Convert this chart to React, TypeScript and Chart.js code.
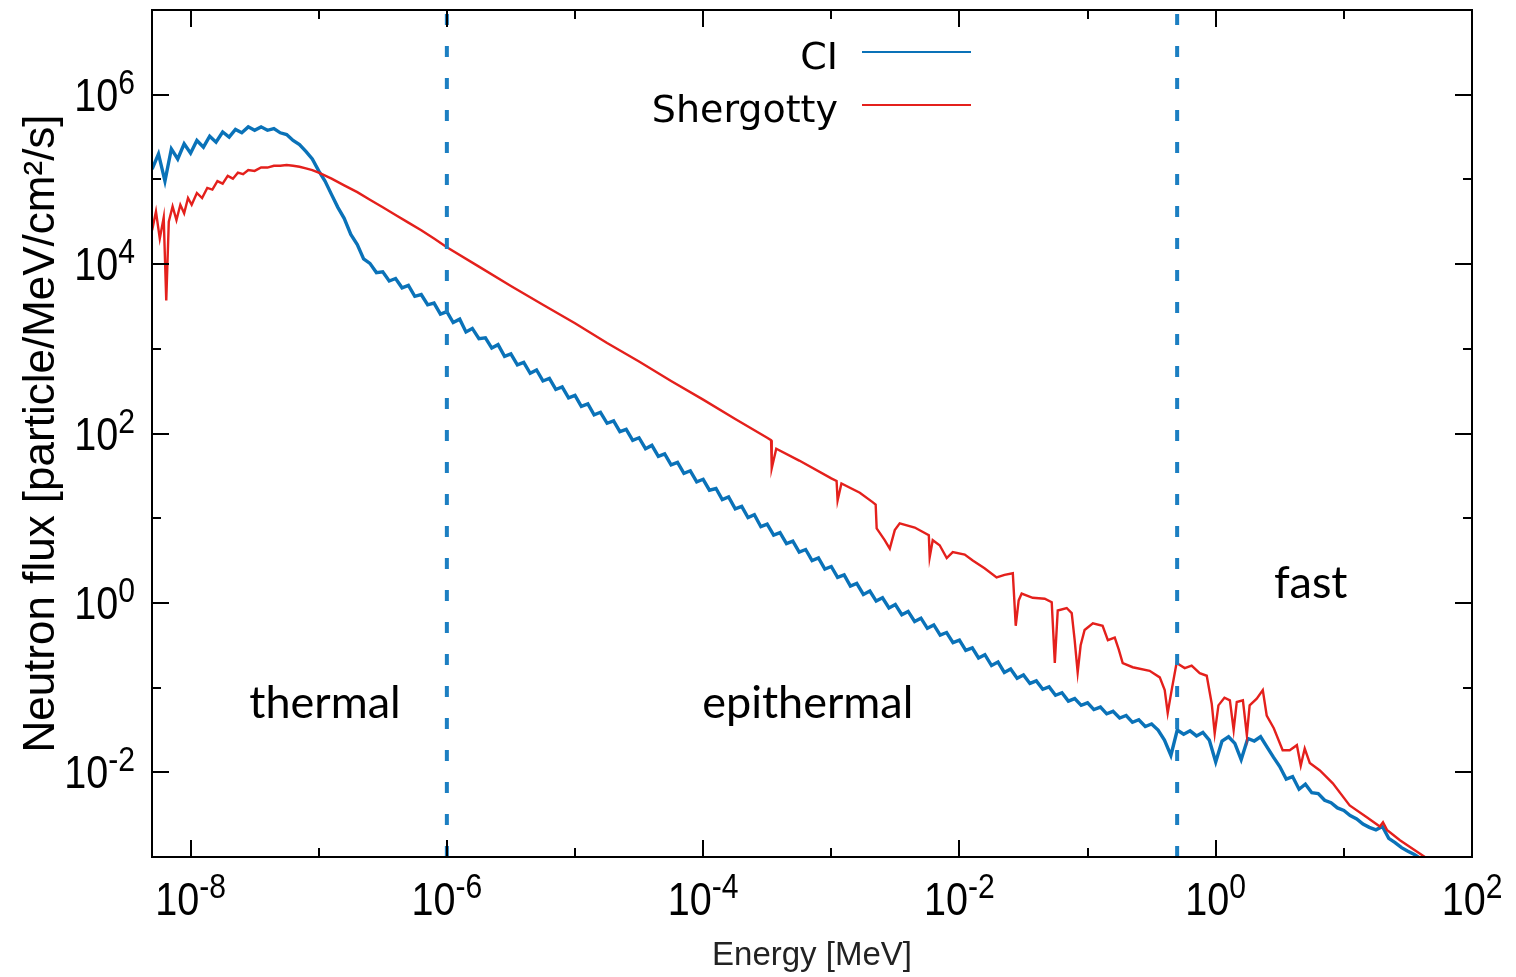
import React, { useEffect, useRef } from 'react';
import { Chart, registerables } from 'chart.js';

Chart.register(...registerables);

// ---------------- data ----------------
const seriesNames = ['CI', 'Shergotty'];

// CI (blue) spectrum
const ciEnergy = [
  5.01e-9, 5.62e-9, 6.31e-9, 7.08e-9, 7.94e-9, 8.91e-9, 1.00e-8, 1.12e-8, 1.26e-8, 1.41e-8,
  1.58e-8, 1.78e-8, 2.00e-8, 2.24e-8, 2.51e-8, 2.82e-8, 3.16e-8, 3.55e-8, 3.98e-8, 4.47e-8,
  5.01e-8, 5.62e-8, 6.31e-8, 7.08e-8, 7.94e-8, 8.91e-8, 1.00e-7, 1.12e-7, 1.26e-7, 1.41e-7,
  1.58e-7, 1.78e-7, 2.00e-7, 2.24e-7, 2.51e-7, 2.82e-7, 3.16e-7, 3.55e-7, 3.98e-7, 4.47e-7,
  5.01e-7, 5.62e-7, 6.31e-7, 7.08e-7, 7.94e-7, 8.91e-7, 1.00e-6, 1.12e-6, 1.26e-6, 1.41e-6,
  1.58e-6, 1.78e-6, 2.00e-6, 2.24e-6, 2.51e-6, 2.82e-6, 3.16e-6, 3.55e-6, 3.98e-6, 4.47e-6,
  5.01e-6, 5.62e-6, 6.31e-6, 7.08e-6, 7.94e-6, 8.91e-6, 1.00e-5, 1.12e-5, 1.26e-5, 1.41e-5,
  1.58e-5, 1.78e-5, 2.00e-5, 2.24e-5, 2.51e-5, 2.82e-5, 3.16e-5, 3.55e-5, 3.98e-5, 4.47e-5,
  5.01e-5, 5.62e-5, 6.31e-5, 7.08e-5, 7.94e-5, 8.91e-5, 1.00e-4, 1.12e-4, 1.26e-4, 1.41e-4,
  1.58e-4, 1.78e-4, 2.00e-4, 2.24e-4, 2.51e-4, 2.82e-4, 3.16e-4, 3.55e-4, 3.98e-4, 4.47e-4,
  5.01e-4, 5.62e-4, 6.31e-4, 7.08e-4, 7.94e-4, 8.91e-4, 1.00e-3, 1.12e-3, 1.26e-3, 1.41e-3,
  1.58e-3, 1.78e-3, 2.00e-3, 2.24e-3, 2.51e-3, 2.82e-3, 3.16e-3, 3.55e-3, 3.98e-3, 4.47e-3,
  5.01e-3, 5.62e-3, 6.31e-3, 7.08e-3, 7.94e-3, 8.91e-3, 1.00e-2, 1.12e-2, 1.26e-2, 1.41e-2,
  1.58e-2, 1.78e-2, 2.00e-2, 2.24e-2, 2.51e-2, 2.82e-2, 3.16e-2, 3.55e-2, 3.98e-2, 4.47e-2,
  5.01e-2, 5.62e-2, 6.31e-2, 7.08e-2, 7.94e-2, 8.91e-2, 0.100, 0.112, 0.126, 0.141,
  0.158, 0.178, 0.200, 0.224, 0.251, 0.282, 0.316, 0.355, 0.398, 0.447,
  0.501, 0.562, 0.631, 0.708, 0.794, 0.891, 1.00, 1.12, 1.26, 1.41,
  1.58, 1.78, 2.00, 2.24, 2.51, 2.82, 3.16, 3.55, 3.98, 4.47,
  5.01, 5.62, 6.31, 7.08, 7.94, 8.91, 10.0, 11.2, 12.6, 14.1,
  15.8, 17.8, 20.0, 22.4, 25.1, 28.2, 31.6, 35.5, 39.8,
];
const ciFlux = [
  1.32e5, 2.00e5, 9.55e4, 2.29e5, 1.74e5, 2.63e5, 2.04e5, 2.88e5, 2.40e5, 3.24e5,
  2.75e5, 3.63e5, 3.16e5, 3.89e5, 3.55e5, 4.17e5, 3.80e5, 4.17e5, 3.80e5, 3.98e5,
  3.55e5, 3.39e5, 2.88e5, 2.57e5, 2.14e5, 1.74e5, 1.26e5, 9.55e4, 6.61e4, 4.68e4,
  3.47e4, 2.24e4, 1.70e4, 1.15e4, 1.02e4, 7.94e3, 8.13e3, 6.31e3, 6.76e3, 5.25e3,
  5.62e3, 4.17e3, 4.37e3, 3.31e3, 3.47e3, 2.57e3, 2.75e3, 2.04e3, 2.24e3, 1.58e3,
  1.74e3, 1.32e3, 1.35e3, 1.02e3, 1.12e3, 813, 871, 646, 692, 513,
  562, 417, 447, 331, 355, 263, 282, 209, 224, 166,
  178, 132, 141, 105, 112, 83.2, 89.1, 66.1, 72.4, 53.7,
  57.5, 42.7, 45.7, 33.9, 36.3, 26.9, 28.8, 21.4, 22.4, 16.6,
  17.8, 12.9, 13.8, 10.2, 11.0, 7.94, 8.51, 6.31, 6.76, 5.01,
  5.37, 3.98, 4.27, 3.16, 3.39, 2.51, 2.69, 2.00, 2.14, 1.58,
  1.70, 1.26, 1.38, 1.05, 1.15, 0.871, 0.955, 0.724, 0.794, 0.603,
  0.661, 0.501, 0.550, 0.417, 0.447, 0.339, 0.363, 0.275, 0.295, 0.224,
  0.245, 0.182, 0.200, 0.151, 0.166, 0.129, 0.141, 0.112, 0.120, 0.0955,
  0.102, 0.0813, 0.0871, 0.0692, 0.0741, 0.0617, 0.0661, 0.0550, 0.0589, 0.0490,
  0.0525, 0.0437, 0.0468, 0.0389, 0.0417, 0.0347, 0.0372, 0.0316, 0.0240, 0.0158,
  0.0316, 0.0282, 0.0309, 0.0269, 0.0295, 0.0240, 0.0132, 0.0234, 0.0263, 0.0219,
  0.0141, 0.0251, 0.0234, 0.0263, 0.0200, 0.0151, 0.0117, 0.00832, 0.00891, 0.00631,
  0.00724, 0.00575, 0.00562, 0.00468, 0.00437, 0.00380, 0.00355, 0.00309, 0.00282, 0.00245,
  0.00224, 0.00209, 0.00229, 0.00166, 0.00148, 0.00129, 0.00117, 0.00107, 0.000955,
];

// Shergotty (red) spectrum
const shEnergy = [
  5.01e-9, 5.37e-9, 5.75e-9, 6.17e-9, 6.46e-9, 6.76e-9, 7.24e-9, 7.76e-9, 8.32e-9, 8.91e-9,
  9.55e-9, 1.02e-8, 1.12e-8, 1.23e-8, 1.35e-8, 1.48e-8, 1.62e-8, 1.78e-8, 1.95e-8, 2.14e-8,
  2.34e-8, 2.57e-8, 2.82e-8, 3.16e-8, 3.55e-8, 3.98e-8, 4.47e-8, 5.01e-8, 5.62e-8, 6.31e-8,
  7.08e-8, 7.94e-8, 8.91e-8, 1.00e-7, 1.26e-7, 1.58e-7, 2.00e-7, 2.51e-7, 3.16e-7, 3.98e-7,
  5.01e-7, 6.31e-7, 7.94e-7, 1.00e-6, 1.78e-6, 3.16e-6, 5.62e-6, 1.00e-5, 1.78e-5, 3.16e-5,
  5.62e-5, 1.00e-4, 1.78e-4, 3.16e-4, 3.39e-4, 3.43e-4, 3.72e-4, 5.62e-4, 1.00e-3, 1.10e-3,
  1.12e-3, 1.20e-3, 1.67e-3, 2.10e-3, 2.22e-3, 2.26e-3, 2.61e-3, 2.86e-3, 3.13e-3, 3.42e-3,
  4.48e-3, 5.77e-3, 5.86e-3, 6.19e-3, 7.01e-3, 7.96e-3, 8.87e-3, 1.10e-2, 1.27e-2, 1.57e-2,
  1.95e-2, 2.25e-2, 2.61e-2, 2.75e-2, 2.90e-2, 3.06e-2, 3.73e-2, 4.63e-2, 5.25e-2, 5.55e-2,
  5.85e-2, 6.87e-2, 7.52e-2, 7.93e-2, 8.37e-2, 8.83e-2, 9.48e-2, 0.110, 0.131, 0.144,
  0.163, 0.175, 0.188, 0.225, 0.305, 0.366, 0.400, 0.422, 0.453, 0.495,
  0.573, 0.649, 0.750, 0.851, 0.931, 0.982, 1.05, 1.17, 1.29, 1.38,
  1.46, 1.63, 1.75, 1.84, 2.09, 2.33, 2.50, 2.84, 3.33, 3.78,
  4.30, 4.61, 4.95, 5.42, 6.50, 8.20, 11.1, 15.1, 19.1, 20.2,
  21.7, 27.4, 42.9,
];
const shFlux = [
  2.51e4, 4.17e4, 2.00e4, 3.55e4, 3.72e3, 3.16e4, 4.79e4, 3.31e4, 5.01e4, 3.98e4,
  6.03e4, 5.01e4, 6.92e4, 6.03e4, 7.94e4, 7.59e4, 9.55e4, 8.91e4, 1.10e5, 1.02e5,
  1.20e5, 1.15e5, 1.29e5, 1.26e5, 1.38e5, 1.38e5, 1.45e5, 1.45e5, 1.48e5, 1.45e5,
  1.41e5, 1.35e5, 1.29e5, 1.20e5, 1.02e5, 8.51e4, 7.08e4, 5.75e4, 4.68e4, 3.80e4,
  3.09e4, 2.51e4, 2.00e4, 1.58e4, 9.33e3, 5.50e3, 3.31e3, 2.00e3, 1.17e3, 708,
  417, 251, 148, 89.1, 83.2, 38.9, 66.1, 47.9, 29.5, 27.5,
  16.2, 25.7, 20.0, 15.5, 14.5, 7.59, 5.50, 4.37, 7.24, 8.71,
  7.76, 6.31, 3.47, 5.50, 4.79, 3.39, 3.98, 3.72, 3.16, 2.57,
  2.00, 2.14, 2.24, 0.537, 1.07, 1.29, 1.15, 1.12, 1.02, 0.195,
  0.813, 0.871, 0.759, 0.363, 0.151, 0.316, 0.479, 0.575, 0.537, 0.363,
  0.389, 0.282, 0.195, 0.174, 0.158, 0.132, 0.0933, 0.0501, 0.0933, 0.195,
  0.170, 0.182, 0.148, 0.138, 0.0646, 0.0288, 0.0617, 0.0759, 0.0708, 0.0316,
  0.0676, 0.0708, 0.0275, 0.0617, 0.0741, 0.0933, 0.0468, 0.0331, 0.0182, 0.0182,
  0.0209, 0.0120, 0.0191, 0.0129, 0.0105, 0.00741, 0.00407, 0.00295, 0.00229, 0.00257,
  0.00209, 0.00158, 0.00100,
];

// region boundaries (MeV) drawn as dashed verticals
const regionBoundaries = [1e-6, 0.5];

// region names and where they sit (energy, flux at text baseline)
const regionNames = ['thermal', 'epithermal', 'fast'];
const regionNameEnergy = [1.12e-7, 6.55e-4, 5.51];
const regionNameFlux = [0.0434, 0.0434, 1.13];

// axes
const xRange = [5e-9, 100];
const yRange = [1e-3, 1e7];
const xTickExponents = [-8, -7, -6, -5, -4, -3, -2, -1, 0, 1, 2];
const yTickExponents = [-3, -2, -1, 0, 1, 2, 3, 4, 5, 6, 7];
const xLabelExponents = [-8, -6, -4, -2, 0, 2];
const yLabelExponents = [-2, 0, 2, 4, 6];
const xTitle = 'Energy [MeV]';
const yTitle = 'Neutron flux [particle/MeV/cm²/s]';

// ---------------- styles ----------------
const BLUE = '#0a72b8';
const RED = '#e4201c';
const DASH_BLUE = '#1c7fc2';
const TICK_FONT = '"Liberation Sans", Arial, sans-serif';
const SX = 0.86;

function drawPower(
  ctx: CanvasRenderingContext2D,
  exp: number,
  anchorX: number,
  baseY: number,
  supY: number,
  align: 'center' | 'right'
) {
  const base = '10';
  const sup = String(exp);
  ctx.font = `46px ${TICK_FONT}`;
  const wb = ctx.measureText(base).width * SX;
  ctx.font = `35px ${TICK_FONT}`;
  const ws = ctx.measureText(sup).width * SX;
  const total = wb + ws;
  const x0 = align === 'center' ? anchorX - total / 2 : anchorX - total;
  ctx.save();
  ctx.translate(x0, baseY);
  ctx.scale(SX, 1);
  ctx.font = `46px ${TICK_FONT}`;
  ctx.fillText(base, 0, 0);
  ctx.restore();
  ctx.save();
  ctx.translate(x0 + wb, supY);
  ctx.scale(SX, 1);
  ctx.font = `35px ${TICK_FONT}`;
  ctx.fillText(sup, 0, 0);
  ctx.restore();
}

const gnuplotLook = {
  id: 'gnuplotLook',
  afterDraw(chart: any) {
    const { ctx, chartArea: ca, scales } = chart;
    const xs = scales.x;
    const ys = scales.y;
    ctx.save();
    ctx.strokeStyle = '#000';
    ctx.fillStyle = '#000';
    ctx.lineWidth = 2;
    ctx.strokeRect(ca.left, ca.top, ca.right - ca.left, ca.bottom - ca.top);

    ctx.beginPath();
    xs.ticks.forEach((t: any) => {
      const e = Math.round(Math.log10(t.value));
      const len = e % 2 === 0 ? 17 : 9;
      const px = Math.round(xs.getPixelForValue(t.value));
      ctx.moveTo(px, ca.bottom);
      ctx.lineTo(px, ca.bottom - len);
      ctx.moveTo(px, ca.top);
      ctx.lineTo(px, ca.top + len);
    });
    ys.ticks.forEach((t: any) => {
      const e = Math.round(Math.log10(t.value));
      const len = e % 2 === 0 ? 17 : 9;
      const py = Math.round(ys.getPixelForValue(t.value));
      ctx.moveTo(ca.left, py);
      ctx.lineTo(ca.left + len, py);
      ctx.moveTo(ca.right, py);
      ctx.lineTo(ca.right - len, py);
    });
    ctx.stroke();

    ctx.textAlign = 'left';
    ctx.textBaseline = 'alphabetic';
    xLabelExponents.forEach((e) => {
      const px = xs.getPixelForValue(10 ** e);
      drawPower(ctx, e, px, ca.bottom + 58, ca.bottom + 41, 'center');
    });
    yLabelExponents.forEach((e) => {
      const py = ys.getPixelForValue(10 ** e);
      drawPower(ctx, e, ca.left - 17, py + 16, py - 1, 'right');
    });

    // legend (text left of sample line, gnuplot style)
    ctx.font = '38px "DejaVu Sans", sans-serif';
    ctx.textAlign = 'right';
    const legendColors = [BLUE, RED];
    const legendY = [52, 105];
    seriesNames.forEach((name, i) => {
      ctx.fillStyle = '#000';
      ctx.fillText(name, 838, legendY[i] + 17);
      ctx.strokeStyle = legendColors[i];
      ctx.lineWidth = 2;
      ctx.beginPath();
      ctx.moveTo(862, legendY[i]);
      ctx.lineTo(971, legendY[i]);
      ctx.stroke();
    });

    // region names
    ctx.font = '45px Lato, "Open Sans", sans-serif';
    ctx.textAlign = 'center';
    ctx.fillStyle = '#000';
    regionNames.forEach((name, i) => {
      ctx.fillText(name, xs.getPixelForValue(regionNameEnergy[i]), ys.getPixelForValue(regionNameFlux[i]));
    });
    ctx.restore();
  },
};

export default function App() {
  const ref = useRef<HTMLCanvasElement>(null);
  useEffect(() => {
    const canvas = ref.current;
    if (!canvas) return;
    const boundarySets = regionBoundaries.map((e) => ({
      label: 'boundary',
      data: [
        { x: e, y: yRange[0] },
        { x: e, y: yRange[1] },
      ],
      borderColor: DASH_BLUE,
      borderWidth: 4,
      borderDash: [11, 21],
      pointRadius: 0,
    }));
    const chart = new Chart(canvas, {
      type: 'line',
      data: {
        datasets: [
          ...boundarySets,
          {
            label: seriesNames[1],
            data: shEnergy.map((x, i) => ({ x, y: shFlux[i] })),
            borderColor: RED,
            borderWidth: 2.4,
            pointRadius: 0,
            tension: 0,
          },
          {
            label: seriesNames[0],
            data: ciEnergy.map((x, i) => ({ x, y: ciFlux[i] })),
            borderColor: BLUE,
            borderWidth: 3.4,
            pointRadius: 0,
            tension: 0,
          },
        ],
      },
      options: {
        animation: false,
        responsive: false,
        devicePixelRatio: 1,
        layout: { padding: { top: 10, right: 44, left: 0, bottom: 0 } },
        plugins: { legend: { display: false }, tooltip: { enabled: false } },
        scales: {
          x: {
            type: 'logarithmic',
            position: 'bottom',
            min: xRange[0],
            max: xRange[1],
            afterBuildTicks: (s: any) => {
              s.ticks = xTickExponents.map((e) => ({ value: 10 ** e }));
            },
            afterFit: (s: any) => {
              s.height = 120;
            },
            ticks: { display: false },
            grid: { display: false },
            border: { display: false },
            title: {
              display: true,
              text: xTitle,
              color: '#222',
              font: { family: '"Liberation Sans", Arial, sans-serif', size: 33 },
              padding: { top: 0, bottom: 1.6 },
            },
          },
          y: {
            type: 'logarithmic',
            position: 'left',
            min: yRange[0],
            max: yRange[1],
            afterBuildTicks: (s: any) => {
              s.ticks = yTickExponents.map((e) => ({ value: 10 ** e }));
            },
            afterFit: (s: any) => {
              s.width = 152;
            },
            ticks: { display: false },
            grid: { display: false },
            border: { display: false },
            title: {
              display: true,
              text: yTitle,
              color: '#000',
              font: { family: '"Liberation Sans", Arial, sans-serif', size: 44 },
              padding: { top: 15, bottom: 0 },
            },
          },
        },
      } as any,
      plugins: [gnuplotLook],
    });
    return () => chart.destroy();
  }, []);
  return (
    <div style={{ position: 'absolute', left: 0, top: 0, width: 1516, height: 977, background: '#fff' }}>
      <canvas ref={ref} width={1516} height={977} style={{ display: 'block', width: 1516, height: 977 }} />
    </div>
  );
}
